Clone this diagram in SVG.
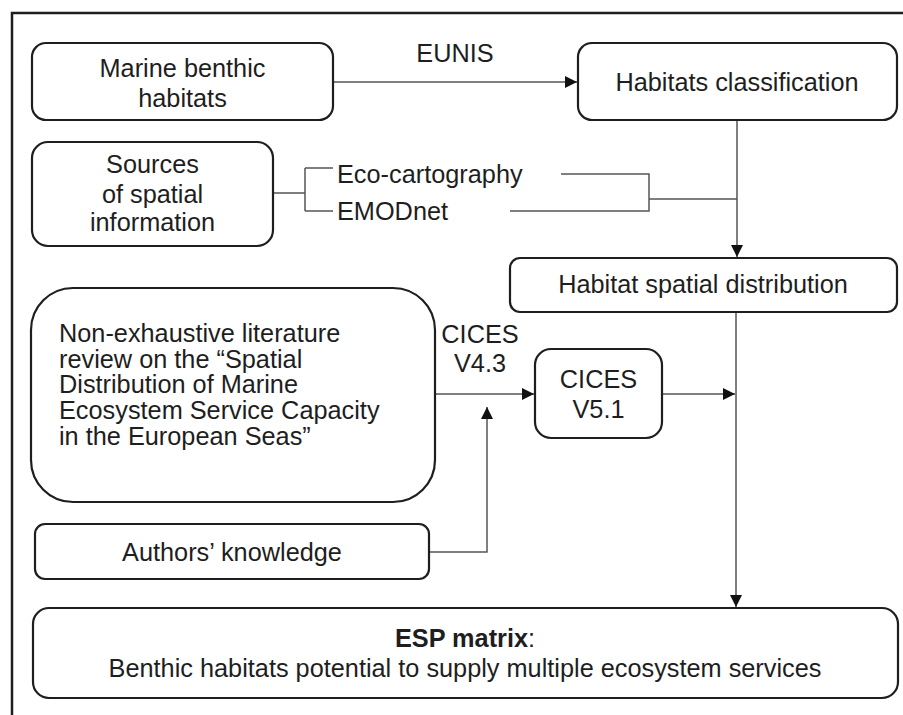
<svg xmlns="http://www.w3.org/2000/svg" width="903" height="715" viewBox="0 0 903 715">
<defs>
<style>
.box{fill:#fff;stroke:#1e1e1e;stroke-width:2.2}
.t{font-family:"Liberation Sans",Arial,sans-serif;font-size:25.3px;fill:#1e1e1e}
.c{text-anchor:middle}
.ln{fill:none;stroke:#555;stroke-width:1.5}
</style>
<marker id="ah" viewBox="0 0 12 12" refX="12" refY="6" markerWidth="13" markerHeight="12" markerUnits="userSpaceOnUse" orient="auto">
<path d="M0,0 L12,6 L0,12 Z" fill="#111"/>
</marker>
</defs>
<rect width="903" height="715" fill="#fff"/>
<path d="M12,715 V13 H903" fill="none" stroke="#1e1e1e" stroke-width="2.5"/>

<g id="connectors">
<path class="ln" d="M333,82 H577" marker-end="url(#ah)"/>
<path class="ln" d="M737,120 V257" marker-end="url(#ah)"/>
<path class="ln" d="M273,193 H305 M305,168 V211 M305,168 H333 M305,211 H333"/>
<path class="ln" d="M561,174 H649 V211 H510 M649,199 H737"/>
<path class="ln" d="M736,312 V607" marker-end="url(#ah)"/>
<path class="ln" d="M435,394 H534" marker-end="url(#ah)"/>
<path class="ln" d="M662,394 H735" marker-end="url(#ah)"/>
<path class="ln" d="M429,552 H487 V407" marker-end="url(#ah)"/>
</g>

<g id="labels">
<text class="t c" x="455" y="62">EUNIS</text>
<text class="t" x="337" y="183">Eco-cartography</text>
<text class="t" x="337" y="220">EMODnet</text>
<text class="t c" x="480" y="343">CICES</text>
<text class="t c" x="480" y="372">V4.3</text>
</g>

<g id="n-marine">
<rect class="box" x="32" y="43" width="301" height="77" rx="14"/>
<text class="t c" x="182.5" y="77">Marine benthic</text>
<text class="t c" x="182.5" y="107">habitats</text>
</g>

<g id="n-habclass">
<rect class="box" x="578" y="43" width="319" height="77" rx="14"/>
<text class="t c" x="737" y="91">Habitats classification</text>
</g>

<g id="n-sources">
<rect class="box" x="32" y="142" width="241" height="104" rx="16"/>
<text class="t c" x="152.5" y="173">Sources</text>
<text class="t c" x="152.5" y="203">of spatial</text>
<text class="t c" x="152.5" y="231">information</text>
</g>

<g id="n-habspatial">
<rect class="box" x="510" y="258" width="387" height="54" rx="10"/>
<text class="t c" x="703" y="293">Habitat spatial distribution</text>
</g>

<g id="n-literature">
<rect class="box" x="31" y="288" width="404" height="214" rx="42"/>
<text class="t" x="59" y="342">Non-exhaustive literature</text>
<text class="t" x="59" y="368">review on the “Spatial</text>
<text class="t" x="59" y="393">Distribution of Marine</text>
<text class="t" x="59" y="419">Ecosystem Service Capacity</text>
<text class="t" x="59" y="445">in the European Seas”</text>
</g>

<g id="n-cices51">
<rect class="box" x="535" y="349" width="127" height="89" rx="16"/>
<text class="t c" x="598.5" y="388">CICES</text>
<text class="t c" x="598.5" y="418">V5.1</text>
</g>

<g id="n-authors">
<rect class="box" x="35" y="524" width="394" height="55" rx="10"/>
<text class="t c" x="232" y="561">Authors’ knowledge</text>
</g>

<g id="n-esp">
<rect class="box" x="33" y="608" width="865" height="90" rx="16"/>
<text class="t c" x="465" y="647"><tspan font-weight="bold">ESP matrix</tspan>:</text>
<text class="t c" x="465" y="677">Benthic habitats potential to supply multiple ecosystem services</text>
</g>
</svg>
